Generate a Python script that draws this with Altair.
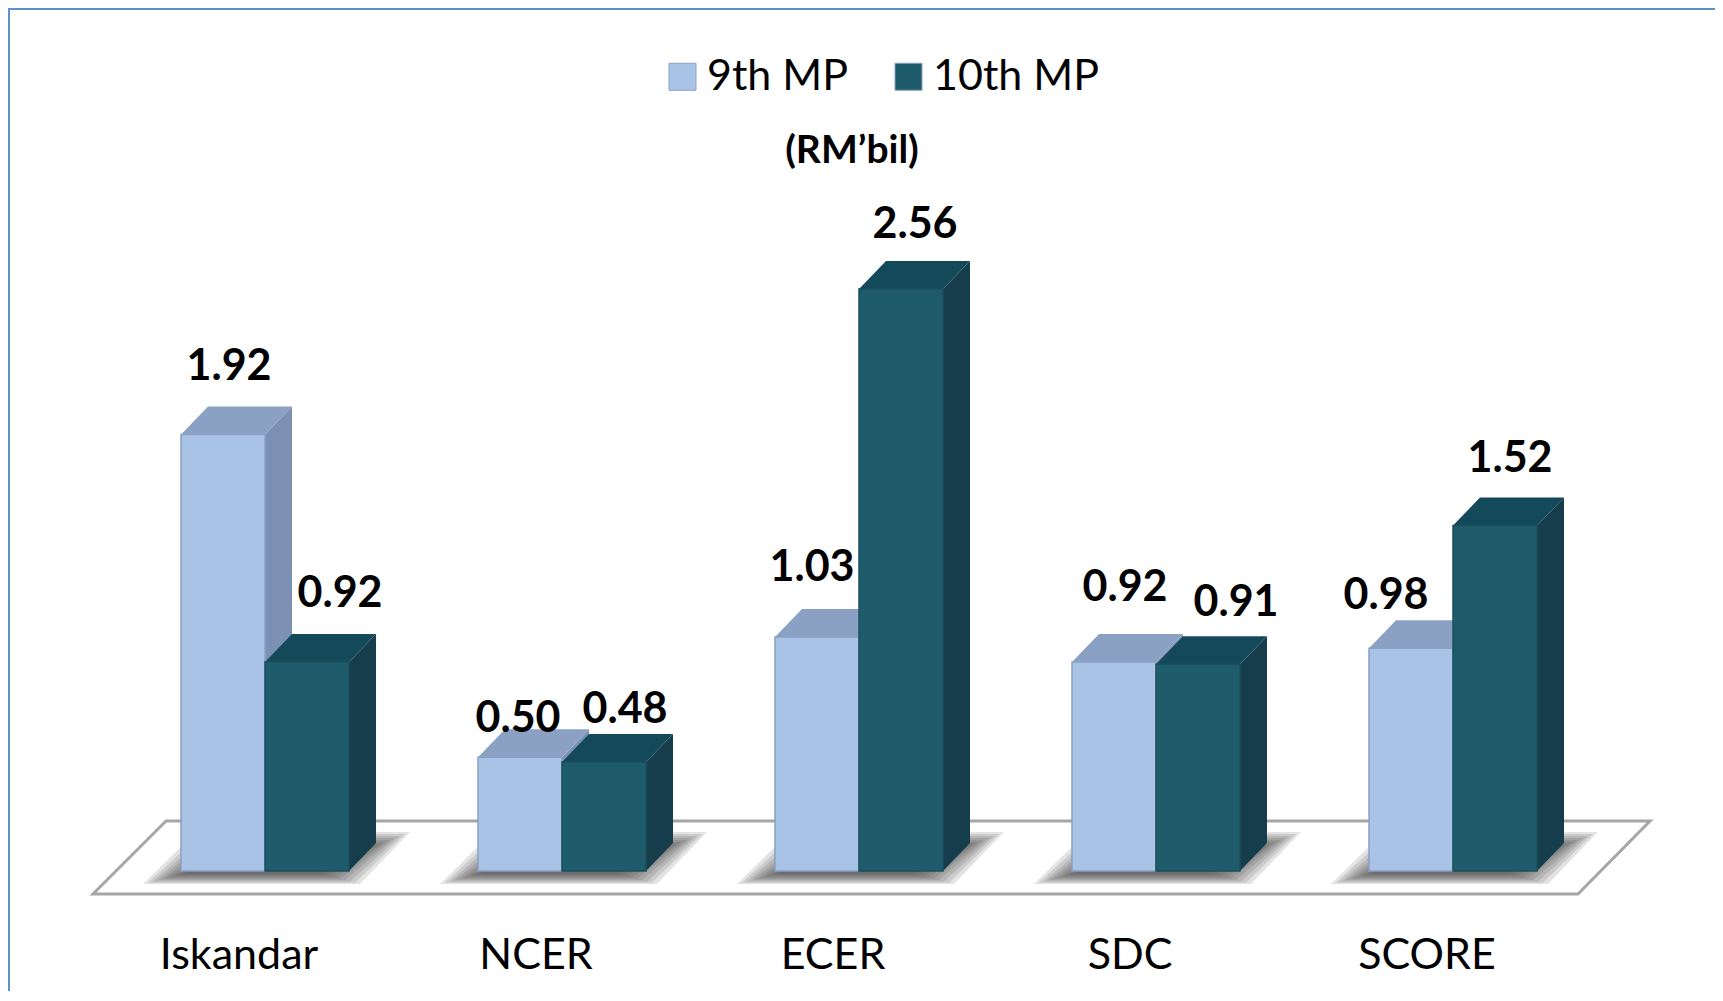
import altair as alt
import pandas as pd

categories = ["Iskandar", "NCER", "ECER", "SDC", "SCORE"]
series_names = ["9th MP", "10th MP"]
mp9 = [1.92, 0.50, 1.03, 0.92, 0.98]
mp10 = [0.92, 0.48, 2.56, 0.91, 1.52]

# ---- layout (pixels inside the plot area) ----
W, H = 1707, 982
BASE_PX, ORIGIN_PX, GROUP_PX, PX_PER_UNIT = 862, 257, 297.0, 227.3
BAR = 84 / GROUP_PX
DX = 27 / GROUP_PX
DY = 28 / PX_PER_UNIT
FONT = "Lato"
LIGHT, LIGHT_TOP, LIGHT_SIDE, LIGHT_EDGE = "#a9c3e6", "#8ba1c4", "#7c90b3", "#8aa0c4"
DARK, DARK_TOP, DARK_SIDE, DARK_EDGE = "#1f5c6b", "#14495a", "#163d4b", "#1a4f5e"

xs = alt.Scale(domain=[-ORIGIN_PX / GROUP_PX, (W - ORIGIN_PX) / GROUP_PX], nice=False, zero=False)
ys = alt.Scale(domain=[-(H - BASE_PX) / PX_PER_UNIT, BASE_PX / PX_PER_UNIT], nice=False, zero=False)

def px_x(p): return p / GROUP_PX
def px_y(p): return p / PX_PER_UNIT

values = {series_names[0]: mp9, series_names[1]: mp10}
front, side, top = [], [], []
for s_i, name in enumerate(series_names):
    for g, v in enumerate(values[name]):
        x0 = g + (s_i - 1) * BAR
        x1 = x0 + BAR
        key = f"{name}-{g}"
        front.append(dict(series=name, x=x0, x2=x1, y=0, y2=v))
        side += [dict(series=name, id=key, x=x1, y=0, y2=v),
                 dict(series=name, id=key, x=x1 + DX, y=DY, y2=v + DY)]
        top += [dict(series=name, id=key, x=x0, x2=x1, y=v),
                dict(series=name, id=key, x=x0 + DX, x2=x1 + DX, y=v + DY)]
front, side, top = map(pd.DataFrame, (front, side, top))

# ground plate, drawn from the group positions
floor = pd.DataFrame([
    dict(x=px_x(93 - 265), x2=4 + px_x(1578 - 1453), y=px_y(-23), id="f"),
    dict(x=px_x(166 - 265), x2=4 + px_x(1650 - 1453), y=px_y(50), id="f"),
])

# soft contact shadow: nested translucent plates around each group
shadow = []
for g in range(len(categories)):
    for k in range(10):
        inset = k * 5
        low = -13 + k * 1.3
        high = 39 - k * 2
        shadow += [
            dict(id=f"{g}-{k}", x=g + px_x(-122 + inset), x2=g + px_x(95 - inset), y=px_y(low)),
            dict(id=f"{g}-{k}", x=g + px_x(-69 + inset), x2=g + px_x(145 - inset), y=px_y(high)),
        ]
shadow = pd.DataFrame(shadow)

# data labels were moved by hand in the source: nudges from the bar-top centre, in pixels
nudge_x = {series_names[0]: [6, -2, -5, 11, -25], series_names[1]: [33, 21, 14, 38, 15]}
nudge_y = {series_names[0]: [55, 25, 56, 61, 39], series_names[1]: [55, 39, 51, 48, 54]}
labels = []
for s_i, name in enumerate(series_names):
    for g, v in enumerate(values[name]):
        labels.append(dict(
            text=f"{v:.2f}",
            x=g + (s_i - 0.5) * BAR + px_x(nudge_x[name][g]),
            y=v + px_y(nudge_y[name][g]),
        ))
labels = pd.DataFrame(labels)

cats = pd.DataFrame({"cat": categories, "x": [i - 26 / GROUP_PX for i in range(5)],
                     "y": [px_y(-98)] * 5})

X = alt.X("x:Q", scale=xs, axis=None)
Y = alt.Y("y:Q", scale=ys, axis=None)
color = alt.Color("series:N", scale=alt.Scale(domain=series_names, range=[LIGHT, DARK]),
                  legend=alt.Legend(title=None, orient="none", legendX=653, legendY=46,
                                    direction="horizontal", symbolType="square", symbolSize=729,
                                    symbolStrokeWidth=1, labelFontSize=43, labelFont=FONT,
                                    labelColor="#000000", columnPadding=38, labelOffset=3,
                                    symbolOpacity=1, labelLimit=300))

layers = [
    alt.Chart(floor).mark_area(orient="horizontal", fill="#ffffff", stroke="#a6a6a6", strokeWidth=3).encode(
        x=X, x2="x2:Q", y=Y, detail="id:N"),
    alt.Chart(shadow).mark_area(orient="horizontal", fill="#444444", opacity=0.15).encode(
        x=X, x2="x2:Q", y=Y, detail="id:N"),
]
for name, t_col, s_col, edge in [(series_names[0], LIGHT_TOP, LIGHT_SIDE, LIGHT_EDGE),
                                 (series_names[1], DARK_TOP, DARK_SIDE, DARK_EDGE)]:
    layers += [
        alt.Chart(side[side.series == name]).mark_area(orient="vertical", fill=s_col).encode(
            x=X, y=Y, y2="y2:Q", detail="id:N"),
        alt.Chart(top[top.series == name]).mark_area(orient="horizontal", fill=t_col).encode(
            x=X, x2="x2:Q", y=Y, detail="id:N"),
        alt.Chart(front[front.series == name]).mark_rect(stroke=edge, strokeWidth=1.5).encode(
            x=X, x2="x2:Q", y=Y, y2="y2:Q", color=color),
    ]
layers += [
    alt.Chart(labels).mark_text(font=FONT, fontWeight="bold", fontSize=43, color="#000000",
                                align="center", baseline="alphabetic").encode(x=X, y=Y, text="text:N"),
    alt.Chart(cats).mark_text(font=FONT, fontSize=43, color="#000000",
                              align="center", baseline="alphabetic").encode(x=X, y=Y, text="cat:N"),
    alt.Chart(pd.DataFrame({"t": ["(RM’bil)"]})).mark_text(
        font=FONT, fontWeight="bold", fontSize=39, color="#000000", align="center",
        baseline="alphabetic").encode(x=alt.value(844), y=alt.value(154), text="t:N"),
    alt.Chart(pd.DataFrame({"a": [0]})).mark_rule(color="#6090cc", strokeWidth=2).encode(
        x=alt.value(1), y=alt.value(0), y2=alt.value(H)),
    alt.Chart(pd.DataFrame({"a": [0]})).mark_rule(color="#6090cc", strokeWidth=2).encode(
        x=alt.value(0), x2=alt.value(W), y=alt.value(0)),
]

chart = alt.layer(*layers).resolve_scale(color="shared").properties(
    width=W, height=H, padding={"left": 0, "right": 0, "top": 1, "bottom": 0},
    autosize=alt.AutoSizeParams(type="none"), background="#ffffff",
).configure_view(stroke=None)

chart.save("out.html", embed_options={"renderer": "svg", "actions": False})
